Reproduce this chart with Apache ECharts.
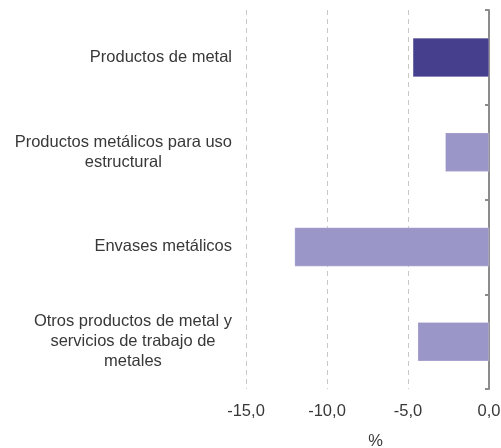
<!DOCTYPE html>
<html><head><meta charset="utf-8">
<script src="https://cdn.jsdelivr.net/npm/echarts@6/dist/echarts.min.js"></script>
<style>html,body{margin:0;padding:0;background:#fff}#c{width:501px;height:448px}</style>
</head><body><div id="c"></div>
<script>
const categories = [
  "Productos de metal",
  "Productos metálicos para uso\nestructural",
  "Envases metálicos",
  "Otros productos de metal y\nservicios de trabajo de\nmetales"
];
const values = [-4.7, -2.7, -12.0, -4.4];
const highlightIndex = 0;
const xTicks = { min: -15, max: 0, interval: 5 };
const axisName = "%";

const chart = echarts.init(document.getElementById('c'), null, {renderer: 'canvas'});
const font = "'Liberation Sans', Arial, sans-serif";
const fs = 16.5;
const txt = '#383838';
chart.setOption({
  animation: false,
  grid: { left: 246, right: 12, top: 10, bottom: 59, containLabel: false, outerBoundsMode: 'none' },
  xAxis: {
    type: 'value', min: xTicks.min, max: xTicks.max, interval: xTicks.interval,
    axisLine: { show: false }, axisTick: { show: false },
    splitLine: { show: true, lineStyle: { type: [5, 4], color: '#c8c8c8', width: 1 } },
    axisLabel: { color: txt, fontFamily: font, fontSize: fs, margin: 14,
      formatter: v => v.toFixed(1).replace('.', ',') },
    name: axisName, nameLocation: 'middle', nameGap: 44,
    nameTextStyle: { color: txt, fontFamily: font, fontSize: fs, padding: [0, 0, 0, 16] }
  },
  yAxis: [{
    type: 'category', data: categories, inverse: true, position: 'right',
    axisLine: { show: true, lineStyle: { color: '#8c8c8c', width: 2 } },
    axisTick: { show: true, inside: true, length: 4, lineStyle: { color: '#8c8c8c', width: 2 } },
    axisLabel: { show: false }, splitLine: { show: false }
  }, {
    type: 'category', data: categories, inverse: true, position: 'left',
    axisLine: { show: false }, axisTick: { show: false }, splitLine: { show: false },
    axisLabel: {
      margin: 14, color: txt, fontFamily: font, fontSize: fs, lineHeight: 20,
      formatter: v => v.split('\n').map(l => '{c|' + l + '}').join('\n'),
      rich: { c: { align: 'center', color: txt, fontFamily: font, fontSize: fs, lineHeight: 20 } }
    }
  }],
  series: [{
    type: 'bar', yAxisIndex: 0, barWidth: 39,
    data: values.map((v, i) => ({ value: v, itemStyle: { color: i === highlightIndex ? '#453f8d' : '#9b96c8' } })),
    itemStyle: { borderColor: 'rgba(255,255,255,0.4)', borderWidth: 0.5 }
  }]
});
</script></body></html>
